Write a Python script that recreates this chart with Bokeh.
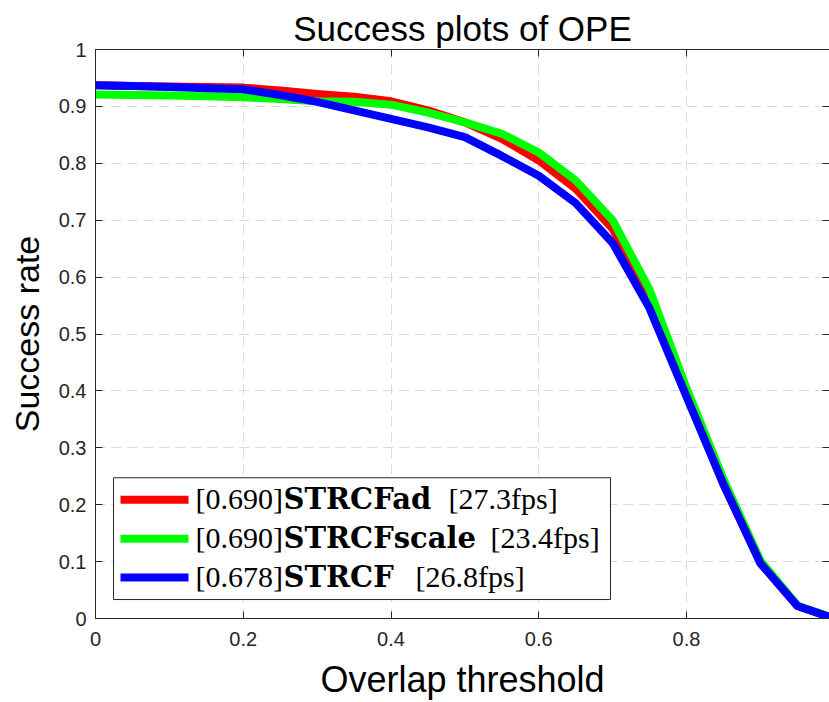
from bokeh.plotting import figure
from bokeh.models import LinearAxis, FixedTicker, Range1d
from bokeh.core.properties import value
from bokeh.embed import file_html
from bokeh.resources import INLINE

# Overlap thresholds and success rates per tracker
thresholds = [0.00, 0.05, 0.10, 0.15, 0.20, 0.25, 0.30, 0.35, 0.40, 0.45, 0.50,
              0.55, 0.60, 0.65, 0.70, 0.75, 0.80, 0.85, 0.90, 0.95, 1.00]
strcf_ad = [0.937, 0.936, 0.935, 0.934, 0.933, 0.928, 0.922, 0.917, 0.909, 0.893, 0.872,
            0.843, 0.805, 0.755, 0.685, 0.565, 0.395, 0.236, 0.098, 0.022, 0.000]
strcf_scale = [0.921, 0.920, 0.919, 0.918, 0.916, 0.913, 0.909, 0.908, 0.903, 0.889, 0.872,
               0.852, 0.819, 0.770, 0.700, 0.578, 0.405, 0.245, 0.102, 0.023, 0.000]
strcf = [0.937, 0.936, 0.934, 0.932, 0.930, 0.920, 0.908, 0.893, 0.878, 0.863, 0.846,
         0.813, 0.778, 0.730, 0.660, 0.545, 0.390, 0.236, 0.097, 0.022, 0.000]

x_ticks = [0, 0.2, 0.4, 0.6, 0.8, 1]
x_tick_labels = ["0", "0.2", "0.4", "0.6", "0.8", "1"]
y_ticks = [0, 0.1, 0.2, 0.3, 0.4, 0.5, 0.6, 0.7, 0.8, 0.9, 1]
y_tick_labels = ["0", "0.1", "0.2", "0.3", "0.4", "0.5", "0.6", "0.7", "0.8", "0.9", "1"]

legend_auc = ["[0.690]", "[0.690]", "[0.678]"]
legend_names = ["STRCFad", "STRCFscale", "STRCF"]
legend_fps = ["[27.3fps]", "[23.4fps]", "[26.8fps]"]
colors = ["#ff0000", "#00ff00", "#0000ff"]

# Frame geometry (pixels); the right edge of the axes box falls just past the canvas
FRAME_L, FRAME_T, FRAME_W, FRAME_H = 95, 49, 734, 570
X_END = FRAME_W / 738.75


def fx(px):
    return (px - FRAME_L) / FRAME_W * X_END


def fy(py):
    return (FRAME_T + FRAME_H - py) / FRAME_H


AX_COLOR = "#262626"
SANS = "Liberation Sans"

p = figure(width=829, height=702, output_backend="svg", toolbar_location=None,
           x_range=Range1d(0, X_END), y_range=Range1d(0, 1),
           min_border_left=FRAME_L, min_border_right=0, min_border_top=FRAME_T,
           min_border_bottom=702 - FRAME_T - FRAME_H,
           title="Success plots of OPE")
p.outline_line_color = None
p.background_fill_color = "white"
p.border_fill_color = "white"

p.title.align = "center"
p.title.text_font = SANS
p.title.text_font_size = "35px"
p.title.text_font_style = "normal"
p.title.text_color = "black"
p.title.standoff = 4

xlabels = {float(t): s for t, s in zip(x_ticks, x_tick_labels)}
ylabels = {float(t): s for t, s in zip(y_ticks, y_tick_labels)}

for ax in p.xaxis:
    ax.ticker = FixedTicker(ticks=x_ticks)
    ax.major_label_overrides = xlabels
    ax.axis_label = "Overlap threshold"
    ax.major_label_standoff = 13
    ax.axis_label_text_font_size = "36px"
for ax in p.yaxis:
    ax.ticker = FixedTicker(ticks=y_ticks)
    ax.major_label_overrides = ylabels
    ax.axis_label = "Success rate"
    ax.major_label_standoff = 9
    ax.axis_label_text_font_size = "34px"

for ax in list(p.xaxis) + list(p.yaxis):
    ax.axis_line_color = AX_COLOR
    ax.major_tick_line_color = AX_COLOR
    ax.major_tick_in = 7
    ax.major_tick_out = 0
    ax.minor_tick_line_color = None
    ax.major_label_text_font = SANS
    ax.major_label_text_font_size = "20px"
    ax.major_label_text_color = AX_COLOR
    ax.axis_label_text_font = SANS
    ax.axis_label_text_font_style = "normal"
    ax.axis_label_text_color = "black"
    ax.axis_label_standoff = 10

# Box ticks on the top and right sides (no labels there)
box_axis_style = dict(major_tick_line_color=AX_COLOR, major_tick_in=7, major_tick_out=0,
                      minor_tick_line_color=None, major_label_text_color=None,
                      major_label_text_font_size="1px", major_label_standoff=0)
top_ax = LinearAxis(ticker=FixedTicker(ticks=x_ticks), axis_line_color=AX_COLOR,
                    **box_axis_style)
right_ax = LinearAxis(ticker=FixedTicker(ticks=y_ticks), axis_line_color=None,
                      **box_axis_style)
p.add_layout(top_ax, "above")
p.add_layout(right_ax, "right")

for g in (p.xgrid, p.ygrid):
    g.grid_line_color = "#dadada"
    g.grid_line_dash = "10 6"
    g.grid_line_width = 1
p.xgrid.ticker = FixedTicker(ticks=x_ticks)
p.ygrid.ticker = FixedTicker(ticks=y_ticks)

# Success curves
for ys, c in zip([strcf_ad, strcf_scale, strcf], colors):
    p.line(thresholds, ys, line_color=c, line_width=8, line_join="round")

# Legend box with mixed-weight entries
p.quad(left=fx(113), right=fx(610), top=fy(478), bottom=fy(600),
       fill_color="white", line_color=AX_COLOR, line_width=1)
rows = [500, 539, 578]
p.segment(x0=[fx(120)] * 3, x1=[fx(188)] * 3, y0=[fy(r) for r in rows],
          y1=[fy(r) for r in rows], line_color=colors, line_width=8, line_cap="butt")
base = [fy(r - 1) for r in rows]
p.text(x=[fx(195)] * 3, y=base, text=legend_auc, text_font=value("Liberation Serif"),
       text_font_size="30px", text_color="black", text_baseline="middle")
p.text(x=[fx(283)] * 3, y=base, text=legend_names, text_font=value("DejaVu Serif"),
       text_font_size="29px", text_font_style="bold", text_color="black",
       text_baseline="middle")
p.text(x=[fx(448), fx(490), fx(415)], y=base, text=legend_fps,
       text_font=value("Liberation Serif"), text_font_size="30px", text_color="black",
       text_baseline="middle")

open("out.html", "w").write(file_html(p, INLINE))
